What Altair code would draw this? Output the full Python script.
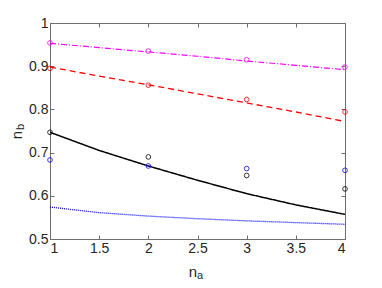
import altair as alt
import pandas as pd

# curve sample positions and values
curve_x = [1, 1.5, 2, 2.5, 3, 3.5, 4]
magenta_curve = [0.953, 0.943, 0.933, 0.923, 0.912, 0.902, 0.892]
red_curve = [0.898, 0.877, 0.857, 0.836, 0.815, 0.794, 0.772]
black_curve = [0.747, 0.705, 0.669, 0.636, 0.605, 0.579, 0.557]
blue_curve = [0.574, 0.561, 0.553, 0.547, 0.542, 0.538, 0.534]

# measured points
point_x = [1, 2, 3, 4]
magenta_pts = [0.954, 0.935, 0.915, 0.898]
red_pts = [0.895, 0.856, 0.823, 0.794]
black_pts = [0.747, 0.690, 0.647, 0.616]
blue_pts = [0.683, 0.669, 0.663, 0.659]

x_ticks = [1, 1.5, 2, 2.5, 3, 3.5, 4]
y_ticks = [0.5, 0.6, 0.7, 0.8, 0.9, 1.0]

series = ["magenta", "red", "black", "blue"]
colors = ["#ff00ff", "#ff0000", "#000000", "#0000ff"]
dashes = [[6, 2, 1, 2], [6, 4], [1, 0], [1, 1]]
widths = [1.2, 1.3, 1.5, 1.3]

curves = [magenta_curve, red_curve, black_curve, blue_curve]
points = [magenta_pts, red_pts, black_pts, blue_pts]

W, H = 295, 216
xscale = alt.Scale(domain=[1, 4], nice=False, zero=False)
yscale = alt.Scale(domain=[0.5, 1], nice=False, zero=False)

inward = alt.ExprRef(expr="-4")
axis_common = dict(
    grid=False, domainColor="#6e6e6e", tickColor="#6e6e6e", tickSize=inward,
    labelFont="Liberation Sans", labelFontSize=14, labelColor="#262626",
    title=None, domainWidth=1,
)

x_axis = alt.Axis(values=x_ticks, format="~g", labelPadding=6, **axis_common)
y_axis = alt.Axis(values=y_ticks, format="~g", labelPadding=6, **axis_common)

layers = []
for i, name in enumerate(series):
    df_c = pd.DataFrame({"x": curve_x, "y": curves[i]})
    line = alt.Chart(df_c).mark_line(
        color=colors[i], strokeDash=dashes[i], strokeWidth=widths[i], clip=True
    ).encode(
        x=alt.X("x:Q", scale=xscale, axis=x_axis if i == 0 else None),
        y=alt.Y("y:Q", scale=yscale, axis=y_axis if i == 0 else None),
    )
    layers.append(line)
for i, name in enumerate(series):
    df_p = pd.DataFrame({"x": point_x, "y": points[i]})
    pts = alt.Chart(df_p).mark_point(
        shape="circle", filled=False, color=colors[i], size=22, strokeWidth=1, opacity=0.8
    ).encode(
        x=alt.X("x:Q", scale=xscale, axis=None),
        y=alt.Y("y:Q", scale=yscale, axis=None),
    )
    layers.append(pts)

# top/right box axes (ticks only)
box_df = pd.DataFrame({"x": [1, 4], "y": [0.5, 1]})
box_axis = dict(grid=False, domainColor="#6e6e6e", tickColor="#6e6e6e", tickSize=inward,
                labels=False, title=None, domainWidth=1)
box = alt.Chart(box_df).mark_point(opacity=0).encode(
    x=alt.X("x:Q", scale=xscale, axis=alt.Axis(orient="top", values=x_ticks, **box_axis)),
    y=alt.Y("y:Q", scale=yscale, axis=alt.Axis(orient="right", values=y_ticks, **box_axis)),
)
layers.append(box)

one = pd.DataFrame({"a": [0]})
def txt(s, x, y, size, angle=0):
    return alt.Chart(one).mark_text(
        text=s, font="Liberation Sans", fontSize=size, color="#262626",
        angle=angle, align="center", baseline="middle"
    ).encode(x=alt.value(x), y=alt.value(y))

layers += [
    txt("n", 143, 249, 15),
    txt("a", 150, 253, 11),
    txt("n", -33, 112, 15, 270),
    txt("b", -29, 104, 11, 270),
]

chart = alt.layer(*layers).resolve_axis(x="independent", y="independent").properties(
    width=W, height=H,
    autosize=alt.AutoSizeParams(type="none"),
    padding={"left": 42, "top": 15, "right": 25, "bottom": 41},
).configure_view(stroke=None).configure(background="white")

chart.save("out.html", embed_options={"renderer": "svg", "actions": False})
